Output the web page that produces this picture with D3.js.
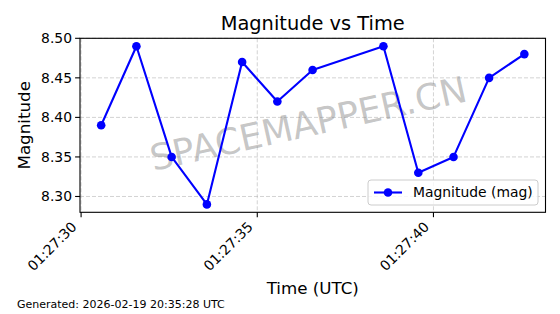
<!DOCTYPE html>
<html>
<head>
<meta charset="utf-8">
<script src="https://cdn.jsdelivr.net/npm/d3@7"></script>
<style>
body{margin:0;background:#fff}
text{font-family:"DejaVu Sans",sans-serif}
</style>
</head>
<body>
<div id="chart"></div>
<script>
// readings taken off the plot
var times = ["01:27:30.57","01:27:31.57","01:27:32.57","01:27:33.57","01:27:34.57","01:27:35.57","01:27:36.57",
             "01:27:38.58","01:27:39.57","01:27:40.57","01:27:41.58","01:27:42.58"]
var mags = [8.39,8.49,8.35,8.29,8.47,8.42,8.46,8.49,8.33,8.35,8.45,8.48]
var yTicks = [8.30,8.35,8.40,8.45,8.50]
var day = "2026-02-19"

var W = 560, H = 314
var L = 80, R = 545.5, T = 38.3, B = 212.3

var parse = function(s){ return new Date(day+"T"+s+"Z") }
var data = times.map(function(t,i){ return {t:parse(t), m:mags[i]} })

var t0 = d3.min(data,function(d){return d.t}), t1 = d3.max(data,function(d){return d.t})
var pad = (t1-t0)*0.05
var x = d3.scaleUtc().domain([new Date(+t0-pad), new Date(+t1+pad)]).range([L,R])
var y = d3.scaleLinear().domain([8.28,8.50]).range([B,T])

var svg = d3.select("#chart").append("svg").attr("width",W).attr("height",H)

var xTicks = x.ticks(d3.utcSecond.every(5))
var fmt = d3.utcFormat("%H:%M:%S")

// grid
var grid = svg.append("g").attr("stroke","#b0b0b0").attr("stroke-opacity",0.7)
	.attr("stroke-width",0.8).attr("stroke-dasharray","4,2")
grid.selectAll(".gx").data(xTicks).enter().append("line")
	.attr("x1",function(d){return x(d)}).attr("x2",function(d){return x(d)})
	.attr("y1",T).attr("y2",B)
grid.selectAll(".gy").data(yTicks).enter().append("line")
	.attr("x1",L).attr("x2",R)
	.attr("y1",function(d){return y(d)}).attr("y2",function(d){return y(d)})

// watermark
svg.append("text").text("SPACEMAPPER.CN")
	.attr("transform","translate(311,136) rotate(-12.5)")
	.attr("text-anchor","middle")
	.style("font-size","36px").attr("fill","#808080").attr("fill-opacity",0.45)

// series
var line = d3.line().x(function(d){return x(d.t)}).y(function(d){return y(d.m)})
svg.append("path").datum(data).attr("d",line).attr("fill","none")
	.attr("stroke","#0000ff").attr("stroke-width",2.1).attr("stroke-linejoin","round")
svg.selectAll(".dot").data(data).enter().append("circle")
	.attr("cx",function(d){return x(d.t)}).attr("cy",function(d){return y(d.m)})
	.attr("r",4.3).attr("fill","#0000ff")

// frame
svg.append("rect").attr("x",L).attr("y",T).attr("width",R-L).attr("height",B-T)
	.attr("fill","none").attr("stroke","#000").attr("stroke-width",1.1)

// x ticks
var xt = svg.append("g")
xt.selectAll("line").data(xTicks).enter().append("line")
	.attr("x1",function(d){return x(d)}).attr("x2",function(d){return x(d)})
	.attr("y1",B).attr("y2",B+4.9).attr("stroke","#000").attr("stroke-width",1.1)
xt.selectAll("text").data(xTicks).enter().append("text")
	.attr("transform",function(d){return "translate("+(x(d)-7)+","+(B+12)+") rotate(-45)"})
	.attr("text-anchor","end").attr("dy","0.35em")
	.style("font-size","13.9px").text(function(d){return fmt(d)})

// y ticks
var yt = svg.append("g")
yt.selectAll("line").data(yTicks).enter().append("line")
	.attr("x1",L-4.9).attr("x2",L)
	.attr("y1",function(d){return y(d)}).attr("y2",function(d){return y(d)})
	.attr("stroke","#000").attr("stroke-width",1.1)
yt.selectAll("text").data(yTicks).enter().append("text")
	.attr("x",L-8).attr("y",function(d){return y(d)}).attr("dy","0.35em")
	.attr("text-anchor","end").style("font-size","13.9px")
	.text(function(d){return d3.format(".2f")(d)})

// titles
svg.append("text").attr("x",(L+R)/2).attr("y",30).attr("text-anchor","middle")
	.style("font-size","19.4px").text("Magnitude vs Time")
svg.append("text").attr("x",(L+R)/2).attr("y",294).attr("text-anchor","middle")
	.style("font-size","16.7px").text("Time (UTC)")
svg.append("text").attr("transform","translate(30,"+((T+B)/2)+") rotate(-90)")
	.attr("text-anchor","middle").style("font-size","16.7px").text("Magnitude")
svg.append("text").attr("x",17).attr("y",308).style("font-size","11px")
	.text("Generated: 2026-02-19 20:35:28 UTC")

// legend
var lg = svg.append("g").attr("transform","translate(368,180)")
lg.append("rect").attr("width",170).attr("height",25).attr("rx",3)
	.attr("fill","#fff").attr("fill-opacity",0.8).attr("stroke","#cccccc")
lg.append("line").attr("x1",6).attr("x2",34).attr("y1",12.5).attr("y2",12.5)
	.attr("stroke","#0000ff").attr("stroke-width",2.1)
lg.append("circle").attr("cx",20).attr("cy",12.5).attr("r",4.3).attr("fill","#0000ff")
lg.append("text").attr("x",45).attr("y",12.5).attr("dy","0.35em")
	.style("font-size","13.9px").text("Magnitude (mag)")
</script>
</body>
</html>
